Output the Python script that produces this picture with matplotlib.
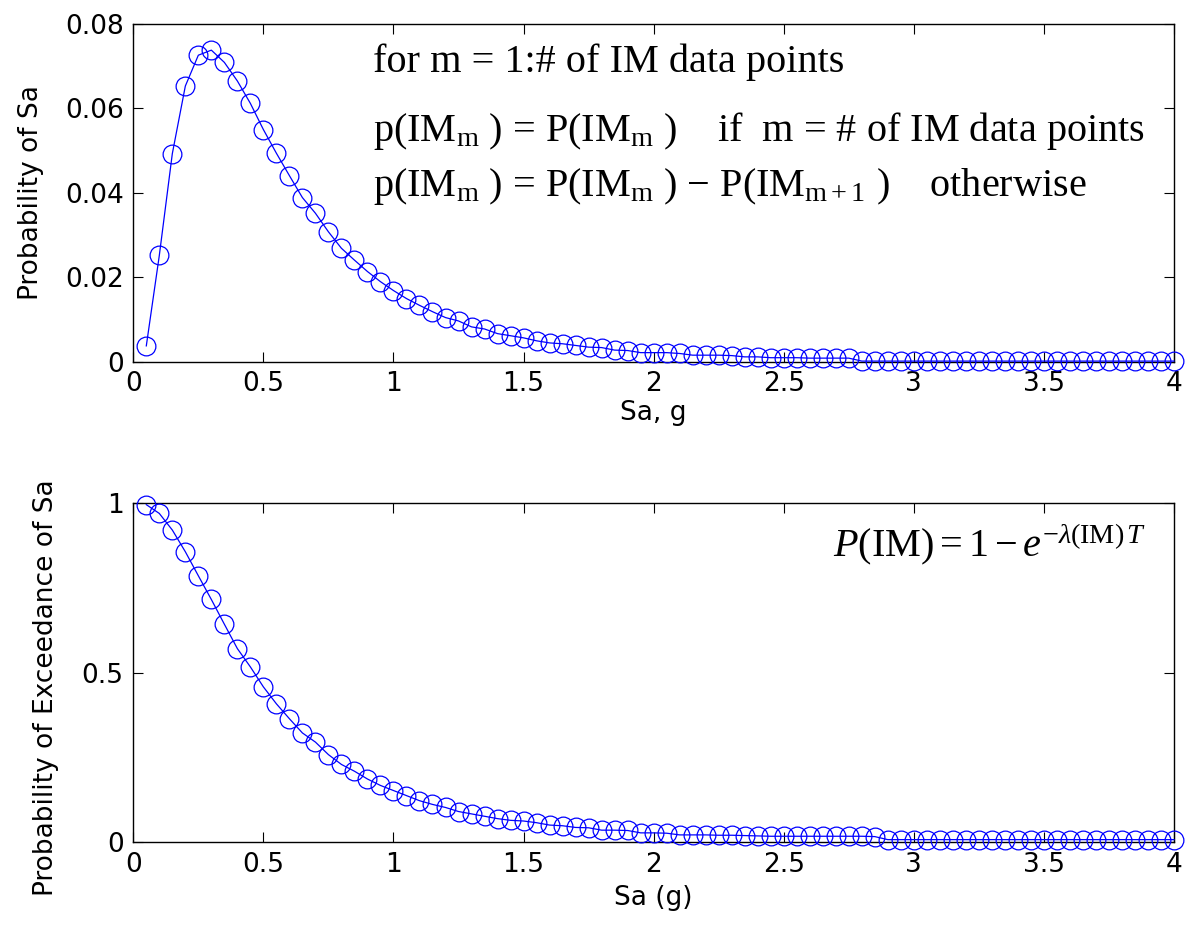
import matplotlib

matplotlib.use("Agg")
import matplotlib.pyplot as plt
import numpy as np

# Sa grid (g)
sa = np.round(np.arange(1, 81) * 0.05, 2)

# p(IM_m): probability of each Sa bin
prob_sa = [
    0.0037, 0.0251, 0.0492, 0.0652, 0.0725, 0.0737, 0.0708, 0.0664, 0.0611, 0.0549,
    0.0493, 0.0440, 0.0388, 0.0351, 0.0307, 0.0268, 0.0240, 0.0213, 0.0189, 0.0168,
    0.0149, 0.0133, 0.0118, 0.0104, 0.0096, 0.0082, 0.0077, 0.0066, 0.0061, 0.0056,
    0.0049, 0.0044, 0.0042, 0.0038, 0.0034, 0.0033, 0.0027, 0.0026, 0.0021, 0.0021,
    0.0021, 0.0019, 0.0015, 0.0015, 0.0015, 0.0014, 0.0011, 0.0011, 0.0009, 0.0009,
    0.0009, 0.0008, 0.0008, 0.0008, 0.0008, 0.0001, 0.0001, 0.0001, 0.0001, 0.0001,
    0.0001, 0.0001, 0.0001, 0.0001, 0.0001, 0.0001, 0.0001, 0.0001, 0.0001, 0.0001,
    0.0001, 0.0001, 0.0001, 0.0001, 0.0001, 0.0001, 0.0001, 0.0001, 0.0001, 0.0001,
]

# P(IM): probability of exceedance
prob_exc = [
    0.996, 0.970, 0.921, 0.857, 0.786, 0.716, 0.643, 0.571, 0.517, 0.458,
    0.408, 0.364, 0.322, 0.295, 0.258, 0.229, 0.209, 0.186, 0.167, 0.152,
    0.137, 0.122, 0.111, 0.102, 0.090, 0.083, 0.076, 0.069, 0.064, 0.062,
    0.057, 0.050, 0.048, 0.043, 0.042, 0.035, 0.035, 0.034, 0.027, 0.027,
    0.026, 0.021, 0.021, 0.021, 0.020, 0.020, 0.019, 0.018, 0.017, 0.017,
    0.017, 0.017, 0.017, 0.017, 0.017, 0.017, 0.016, 0.007, 0.007, 0.007,
    0.007, 0.007, 0.007, 0.007, 0.007, 0.007, 0.007, 0.007, 0.007, 0.007,
    0.007, 0.007, 0.007, 0.007, 0.007, 0.007, 0.007, 0.007, 0.007, 0.007,
]

top_yticks = [0, 0.02, 0.04, 0.06, 0.08]
top_yticklabels = ["0", "0.02", "0.04", "0.06", "0.08"]
bot_yticks = [0, 0.5, 1]
bot_yticklabels = ["0", "0.5", "1"]
xticks = [0, 0.5, 1, 1.5, 2, 2.5, 3, 3.5, 4]
xticklabels = ["0", "0.5", "1", "1.5", "2", "2.5", "3", "3.5", "4"]

plt.rcParams["font.family"] = ["DejaVu Sans"]
plt.rcParams["mathtext.fontset"] = "custom"
plt.rcParams["mathtext.rm"] = "Liberation Serif"
plt.rcParams["mathtext.it"] = "Liberation Serif:italic"
plt.rcParams["mathtext.bf"] = "Liberation Serif:bold"

W, H = 1188, 926
fig = plt.figure(figsize=(W / 100, H / 100), dpi=100)
ax1 = fig.add_axes([0.1122, 0.6096, 0.876, 0.365])
ax2 = fig.add_axes([0.1122, 0.0907, 0.876, 0.3658])

style = dict(color="#0000ff", lw=0.9, marker="o", ms=13.5, mfc="none",
             mec="#0000ff", mew=0.9, clip_on=False, zorder=3)
ax1.plot(sa, prob_sa, **style)
ax2.plot(sa, prob_exc, **style)

for ax, yt, ytl in ((ax1, top_yticks, top_yticklabels),
                    (ax2, bot_yticks, bot_yticklabels)):
    ax.set_xlim(0, 4)
    ax.set_ylim(yt[0], yt[-1])
    ax.set_xticks(xticks)
    ax.set_xticklabels(xticklabels)
    ax.set_yticks(yt)
    ax.set_yticklabels(ytl)
    ax.tick_params(direction="in", length=7, width=0.8, labelsize=19,
                   top=True, right=True, pad=7)
    for s in ax.spines.values():
        s.set_linewidth(1.0)

ax1.set_xlabel("Sa, g", fontsize=19, labelpad=2)
ax1.set_ylabel("Probability of Sa", fontsize=19)
ax1.yaxis.set_label_coords(-0.0858, 0.5)
ax2.set_xlabel("Sa (g)", fontsize=19, labelpad=5)
ax2.set_ylabel("Probability of Exceedance of Sa", fontsize=19)
ax2.yaxis.set_label_coords(-0.0718, 0.455)

serif = ["Liberation Serif", "DejaVu Serif"]
fig.text(373 / W, 1 - 72 / H, "for m = 1:# of IM data points",
         fontsize=29, family=serif, va="baseline")
fig.text(373 / W, 1 - 141 / H,
         r"p(IM$_{\mathrm{m}}$ ) = P(IM$_{\mathrm{m}}$ )    if  m = # of IM data points",
         fontsize=29, family=serif, va="baseline")
fig.text(373 / W, 1 - 196 / H,
         r"p(IM$_{\mathrm{m}}$ ) = P(IM$_{\mathrm{m}}$ ) $-$ P(IM$_{\mathrm{m+1}}$ )    otherwise",
         fontsize=29, family=serif, va="baseline")
fig.text(833 / W, 1 - 557 / H,
         r"$P(\mathrm{IM}) = 1 - e^{-\lambda(\mathrm{IM})\,T}$",
         fontsize=29, va="baseline")

fig.savefig("out.png", dpi=100)
